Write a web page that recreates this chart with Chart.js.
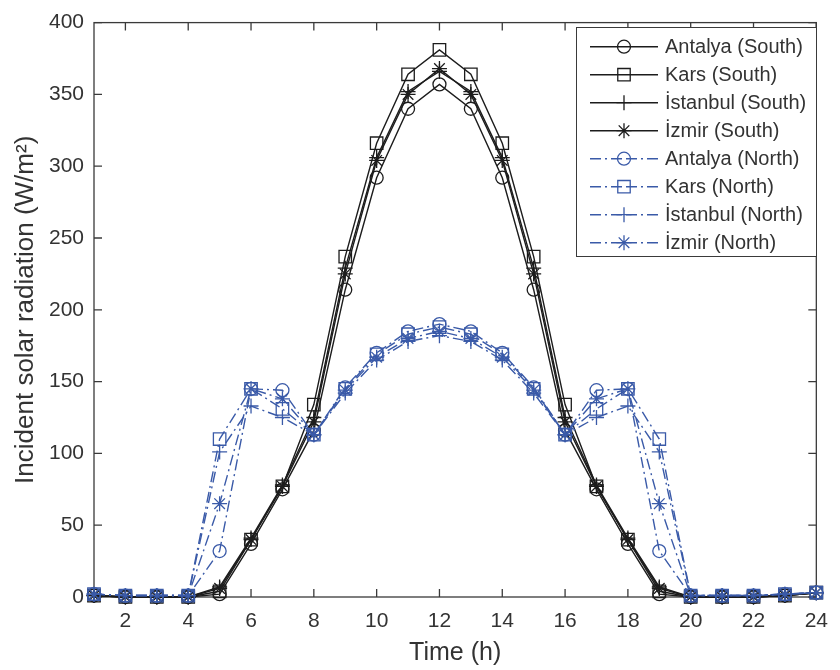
<!DOCTYPE html>
<html>
<head>
<meta charset="utf-8">
<script src="https://cdn.jsdelivr.net/npm/chart.js@4/dist/chart.umd.min.js"></script>
<style>
  html, body { margin: 0; padding: 0; background: #ffffff; }
  #wrap { width: 840px; height: 670px; }
</style>
</head>
<body>
<div id="wrap"><canvas id="c" width="840" height="670"></canvas></div>
<script>
// ---- data ----
const hours = [1,2,3,4,5,6,7,8,9,10,11,12,13,14,15,16,17,18,19,20,21,22,23,24];

const antalyaSouth  = [1,0,0,0,2,37,75,116,214,292,340,357,340,292,214,116,75,37,2,0,0,0,1,3];
const karsSouth     = [1,0,0,0,4,40,77,134,237,316,364,381,364,316,237,134,77,40,4,0,0,0,1,3];
const istanbulSouth = [1,0,0,0,7,41,78,125,229,306,352,366,352,306,229,125,78,41,7,0,0,0,1,3];
const izmirSouth    = [1,0,0,0,6,40,77,122,225,304,350,368,350,304,225,122,77,40,6,0,0,0,1,3];

const antalyaNorth  = [2,1,1,1,32,145,144,113,146,170,185,190,185,170,146,113,144,145,32,1,1,1,2,3];
const karsNorth     = [2,1,1,1,110,145,131,113,145,169,183,188,183,169,145,113,131,145,110,1,1,1,2,3];
const istanbulNorth = [2,1,1,1,101,133,125,113,142,165,178,182,178,165,142,113,125,133,101,1,1,1,2,3];
const izmirNorth    = [2,1,1,1,65,145,138,113,144,167,180,185,180,167,144,113,138,145,65,1,1,1,2,3];

const seriesLabels = ['Antalya (South)','Kars (South)','İstanbul (South)','İzmir (South)',
                      'Antalya (North)','Kars (North)','İstanbul (North)','İzmir (North)'];

const xTicks = [2,4,6,8,10,12,14,16,18,20,22,24];
const yTicks = [0,50,100,150,200,250,300,350,400];

const xTitle = 'Time (h)';
const yTitle = 'Incident solar radiation (W/m²)';

// ---- styles ----
const FONT = "'Liberation Sans', Arial, Helvetica, sans-serif";
const TEXT = '#333333';
const AXIS = '#3a3a3a';
const BLACK = '#1c1c1c';
const BLUE = '#3a5aa8';
const DASHDOT = [11,4,2,4];

const markers = [
  {pointStyle:'circle', pointRadius:6.5},
  {pointStyle:'rect',   pointRadius:8.8},
  {pointStyle:'cross',  pointRadius:7.5},
  {pointStyle:'star',   pointRadius:7.5}
];

const allSeries = [antalyaSouth, karsSouth, istanbulSouth, izmirSouth,
                   antalyaNorth, karsNorth, istanbulNorth, izmirNorth];

const datasets = allSeries.map((vals, i) => {
  const north = i >= 4;
  const m = markers[i % 4];
  const col = north ? BLUE : BLACK;
  return {
    label: seriesLabels[i],
    data: hours.map((h, k) => ({x: h, y: vals[k]})),
    borderColor: col,
    borderWidth: 1.4,
    borderDash: north ? DASHDOT : [],
    pointStyle: m.pointStyle,
    pointRadius: m.pointRadius,
    pointHoverRadius: m.pointRadius,
    pointBorderWidth: 1.3,
    pointBorderColor: col,
    pointBackgroundColor: 'rgba(0,0,0,0)',
    fill: false,
    tension: 0,
    clip: false,
    order: 7 - i
  };
});

// axes box with inward ticks (MATLAB style)
const boxPlugin = {
  id: 'matlabBox',
  beforeDatasetsDraw(chart) {
    const {ctx, chartArea: a, scales: {x, y}} = chart;
    ctx.save();
    ctx.strokeStyle = AXIS;
    ctx.lineWidth = 1.3;
    ctx.strokeRect(a.left, a.top, a.right - a.left, a.bottom - a.top);
    const TL = 8;
    ctx.beginPath();
    xTicks.forEach(v => {
      const px = x.getPixelForValue(v);
      ctx.moveTo(px, a.bottom); ctx.lineTo(px, a.bottom - TL);
      ctx.moveTo(px, a.top);    ctx.lineTo(px, a.top + TL);
    });
    yTicks.forEach(v => {
      const py = y.getPixelForValue(v);
      ctx.moveTo(a.left, py);  ctx.lineTo(a.left + TL, py);
      ctx.moveTo(a.right, py); ctx.lineTo(a.right - TL, py);
    });
    ctx.stroke();
    ctx.restore();
  }
};

// MATLAB-like legend box
const legendPlugin = {
  id: 'matlabLegend',
  afterDraw(chart) {
    const ctx = chart.ctx;
    const L = {x: 576, y: 27, w: 240, h: 229};
    const x0 = 590, x1 = 658, xm = 624;
    ctx.save();
    ctx.fillStyle = '#ffffff';
    ctx.fillRect(L.x, L.y, L.w, L.h);
    ctx.strokeStyle = AXIS;
    ctx.lineWidth = 1;
    ctx.strokeRect(L.x + 0.5, L.y + 0.5, L.w, L.h);
    chart.data.datasets.forEach((ds, i) => {
      const yy = 46.7 + i * 28;
      ctx.save();
      ctx.strokeStyle = ds.borderColor;
      ctx.lineWidth = ds.borderWidth;
      ctx.setLineDash(ds.borderDash || []);
      ctx.beginPath();
      ctx.moveTo(x0, yy); ctx.lineTo(xm, yy);
      ctx.stroke();
      ctx.beginPath();
      ctx.moveTo(x1, yy); ctx.lineTo(xm, yy);
      ctx.stroke();
      ctx.setLineDash([]);
      ctx.fillStyle = 'rgba(0,0,0,0)';
      ctx.strokeStyle = ds.pointBorderColor;
      ctx.lineWidth = ds.pointBorderWidth;
      Chart.helpers.drawPoint(ctx, {pointStyle: ds.pointStyle, radius: ds.pointRadius,
        borderWidth: ds.pointBorderWidth, rotation: 0}, xm, yy);
      ctx.restore();
      ctx.fillStyle = TEXT;
      ctx.font = '20px ' + FONT;
      ctx.textAlign = 'left';
      ctx.textBaseline = 'middle';
      ctx.fillText(ds.label, 665, yy + 1);
    });
    ctx.restore();
  }
};

new Chart(document.getElementById('c'), {
  type: 'line',
  data: {datasets},
  options: {
    responsive: false,
    animation: false,
    events: [],
    layout: {padding: {top: 14, right: 10, left: 0, bottom: 0}},
    plugins: {legend: {display: false}, tooltip: {enabled: false}},
    scales: {
      x: {
        type: 'linear', min: 1, max: 24,
        grid: {display: false, drawTicks: false},
        border: {display: false},
        afterBuildTicks: s => { s.ticks = xTicks.map(v => ({value: v})); },
        afterFit: s => { s.height = 73; },
        ticks: {padding: 12, color: TEXT, font: {family: FONT, size: 21}, maxRotation: 0, autoSkip: false},
        title: {display: true, text: xTitle, color: TEXT, font: {family: FONT, size: 25},
                padding: {top: 0, bottom: 2}}
      },
      y: {
        type: 'linear', min: 0, max: 400,
        grid: {display: false, drawTicks: false},
        border: {display: false},
        afterBuildTicks: s => { s.ticks = yTicks.map(v => ({value: v})); },
        afterFit: s => { s.width = 94; },
        ticks: {padding: 10, color: TEXT, font: {family: FONT, size: 21}, autoSkip: false},
        title: {display: true, text: yTitle, color: TEXT, font: {family: FONT, size: 26},
                padding: {top: 10, bottom: 0}}
      }
    }
  },
  plugins: [boxPlugin, legendPlugin]
});
</script>
</body>
</html>
